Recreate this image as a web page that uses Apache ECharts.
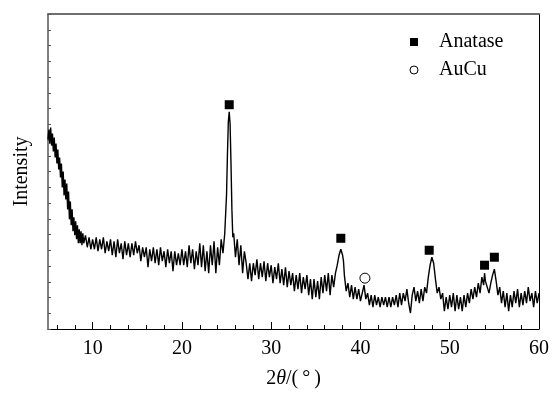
<!DOCTYPE html>
<html><head><meta charset="utf-8">
<script src="https://cdn.jsdelivr.net/npm/echarts@6/dist/echarts.min.js"></script>
<style>html,body{margin:0;padding:0;background:#fff}#c{width:552px;height:394px}</style>
</head><body><div id="c"></div>
<script>
// 2θ (degrees)
var twoTheta = [5.0,5.1,5.2,5.3,5.4,5.5,5.6,5.7,5.8,5.9,6.0,6.1,6.2,6.3,6.4,6.5,6.6,6.7,6.8,6.9,7.0,7.1,7.2,7.3,7.4,7.5,7.6,7.7,7.8,7.9,8.0,8.1,8.2,8.3,8.4,8.5,8.6,8.7,8.8,8.9,9.0,9.2,9.4,9.6,9.8,10.0,10.2,10.4,10.6,10.8,11.0,11.2,11.4,11.6,11.8,12.0,12.2,12.4,12.6,12.8,13.0,13.2,13.4,13.6,13.8,14.0,14.2,14.4,14.6,14.8,15.0,15.2,15.4,15.6,15.8,16.0,16.2,16.4,16.6,16.8,17.0,17.2,17.4,17.6,17.8,18.0,18.2,18.4,18.6,18.8,19.0,19.2,19.4,19.6,19.8,20.0,20.2,20.4,20.6,20.8,21.0,21.2,21.4,21.6,21.8,22.0,22.2,22.4,22.6,22.8,23.0,23.2,23.4,23.6,23.8,24.0,24.2,24.4,24.6,24.8,25.0,25.1,25.2,25.3,25.4,25.5,25.6,25.7,25.8,26.0,26.2,26.4,26.6,26.8,27.0,27.2,27.4,27.6,27.8,28.0,28.2,28.4,28.6,28.8,29.0,29.2,29.4,29.6,29.8,30.0,30.2,30.4,30.6,30.8,31.0,31.2,31.4,31.6,31.8,32.0,32.2,32.4,32.6,32.8,33.0,33.2,33.4,33.6,33.8,34.0,34.2,34.4,34.6,34.8,35.0,35.2,35.4,35.6,35.8,36.0,36.2,36.4,36.6,36.8,37.0,37.2,37.4,37.6,37.8,38.0,38.1,38.2,38.4,38.6,38.8,39.0,39.2,39.4,39.6,39.8,40.0,40.2,40.4,40.6,40.8,41.0,41.2,41.4,41.6,41.8,42.0,42.2,42.4,42.6,42.8,43.0,43.2,43.4,43.6,43.8,44.0,44.2,44.4,44.6,44.8,45.0,45.2,45.4,45.6,45.8,46.0,46.2,46.4,46.6,46.8,47.0,47.2,47.4,47.6,47.8,48.0,48.2,48.4,48.6,48.8,49.0,49.2,49.4,49.6,49.8,50.0,50.2,50.4,50.6,50.8,51.0,51.2,51.4,51.6,51.8,52.0,52.2,52.4,52.6,52.8,53.0,53.2,53.4,53.6,53.8,53.9,54.0,54.2,54.4,54.6,54.8,55.0,55.2,55.4,55.6,55.8,56.0,56.2,56.4,56.6,56.8,57.0,57.2,57.4,57.6,57.8,58.0,58.2,58.4,58.6,58.8,59.0,59.2,59.4,59.6,59.8,60.0];
// intensity (a.u.)
var intensity = [190,200,186,202,184,196,178,192,172,186,166,180,160,172,152,166,142,158,134,150,130,146,120,138,110,128,104,120,98,112,94,108,90,104,86,100,86,98,84,96,86,
94,82,92,80,90,80,92,78,90,80,92,76,88,78,90,74,88,72,90,76,86,70,88,74,86,72,86,74,88,76,84,68,82,72,82,62,80,68,82,66,80,64,82,68,78,62,80,66,78,58,78,64,76,64,80,64,78,62,84,66,80,60,78,64,86,62,84,58,78,56,84,64,88,56,82,64,90,76,96,
135,175,208,218,205,165,120,92,96,
72,90,64,84,56,78,66,50,66,48,66,54,70,50,66,52,68,48,66,52,64,46,62,50,66,46,60,44,62,42,58,44,56,38,54,40,56,36,52,40,54,34,50,30,50,32,48,30,52,36,54,38,56,34,54,42,56,
64,74,80,74,68,54,
38,46,32,44,30,42,30,40,28,36,44,30,36,24,34,22,34,24,32,22,32,24,32,22,32,22,32,24,34,22,36,24,36,28,40,26,16,34,42,28,38,26,40,28,42,36,52,64,72,66,50,36,42,30,36,18,32,20,34,22,36,18,34,20,32,18,34,22,36,26,40,30,42,32,46,36,52,44,
56,48,42,36,46,54,60,48,
34,42,26,38,22,36,18,34,22,38,26,40,22,36,24,38,26,42,28,36,22,38,26,36];
// peak markers
var anataseTheta = [25.3, 37.8, 47.7, 53.9, 55.0];
var anataseMark = [225, 91, 79, 64, 72];
var aucuTheta = [40.5];
var aucuMark = [51];
var majorTicks = [10, 20, 30, 40, 50, 60];
var minorTicks = [6,8,12,14,16,18,22,24,26,28,32,34,36,38,42,44,46,48,52,54,56,58];

var F = '"Liberation Serif","Times New Roman",serif';
function zip(a,b){return a.map(function(v,i){return [v,b[i]];});}
var chart = echarts.init(document.getElementById('c'), null, {renderer:'canvas'});
chart.setOption({
  animation:false,
  backgroundColor:'#fff',
  grid: {left:48, right:12, top:14, bottom:64},
  xAxis: [
    {type:'value', min:5, max:60, position:'bottom',
     axisLine:{show:true, lineStyle:{color:'#000', width:1}},
     axisTick:{show:true, inside:true, length:7, customValues:majorTicks, lineStyle:{color:'#000'}},
     axisLabel:{show:true, customValues:majorTicks, margin:10, fontFamily:F, fontSize:20, color:'#000'},
     splitLine:{show:false},
     name:'{a|2}{b|θ}{a|/(\u2009°\u2009)}', nameLocation:'middle', nameGap:40,
     nameTextStyle:{rich:{a:{fontFamily:F, fontSize:20, color:'#000'}, b:{fontFamily:F, fontSize:20, fontStyle:'italic', color:'#000'}}}},
    {type:'value', min:5, max:60, position:'bottom',
     axisLine:{show:false},
     axisTick:{show:true, inside:true, length:4, customValues:minorTicks, lineStyle:{color:'#000'}},
     axisLabel:{show:false}, splitLine:{show:false}},
    {type:'value', min:5, max:60, position:'top',
     axisLine:{show:true, lineStyle:{color:'#6e6e6e', width:2}},
     axisTick:{show:false}, axisLabel:{show:false}, splitLine:{show:false}}
  ],
  yAxis: [
    {type:'value', min:0, max:316, interval:15.8, position:'left',
     axisLine:{show:true, lineStyle:{color:'#555', width:1.5}},
     axisTick:{show:true, inside:true, length:3, lineStyle:{color:'#555'}},
     axisLabel:{show:false}, splitLine:{show:false},
     name:'Intensity', nameLocation:'middle', nameGap:16,
     nameTextStyle:{fontFamily:F, fontSize:20, color:'#000'}},
    {type:'value', min:0, max:316, position:'right',
     axisLine:{show:true, lineStyle:{color:'#000', width:1}},
     axisTick:{show:false}, axisLabel:{show:false}, splitLine:{show:false}}
  ],
  graphic: [
    {type:'rect', shape:{x:410, y:38, width:8, height:8}, style:{fill:'#000'}},
    {type:'text', x:439, y:42, style:{text:'Anatase', font:'20px "Liberation Serif", serif', fill:'#000', verticalAlign:'middle'}},
    {type:'circle', shape:{cx:414, cy:70, r:4}, style:{fill:'#fff', stroke:'#000', lineWidth:1}},
    {type:'text', x:439, y:70, style:{text:'AuCu', font:'20px "Liberation Serif", serif', fill:'#000', verticalAlign:'middle'}}
  ],
  series: [
    {type:'line', name:'XRD', data:zip(twoTheta,intensity), showSymbol:false, symbol:'none',
     lineStyle:{color:'#000', width:1.4}, xAxisIndex:0, yAxisIndex:0, z:3},
    {type:'scatter', name:'Anatase', data:zip(anataseTheta,anataseMark), symbol:'rect', symbolSize:9,
     itemStyle:{color:'#000', opacity:1}, xAxisIndex:0, yAxisIndex:0, z:4},
    {type:'scatter', name:'AuCu', data:zip(aucuTheta,aucuMark), symbol:'circle', symbolSize:10,
     itemStyle:{color:'#fff', borderColor:'#000', borderWidth:1, opacity:1}, xAxisIndex:0, yAxisIndex:0, z:4}
  ]
});
</script></body></html>
